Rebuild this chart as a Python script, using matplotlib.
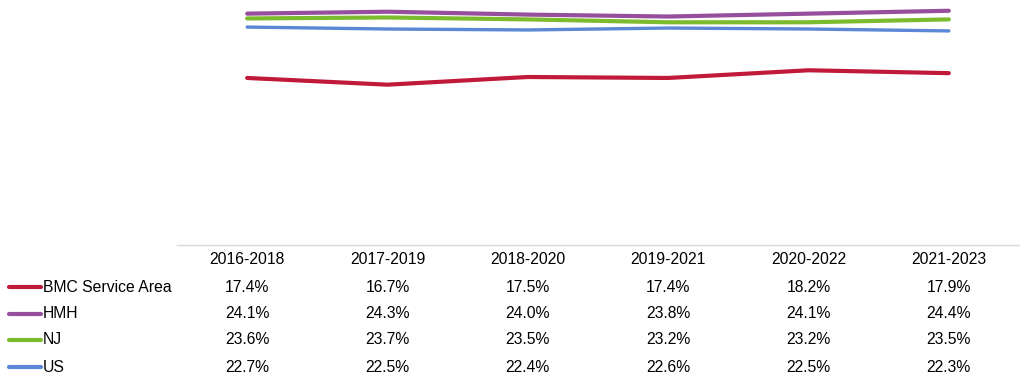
import matplotlib.pyplot as plt
from matplotlib import font_manager
from matplotlib.lines import Line2D
from matplotlib.transforms import blended_transform_factory

installed = {f.name for f in font_manager.fontManager.ttflist}
if "Liberation Sans Narrow" in installed:
    plt.rcParams["font.family"] = ["Liberation Sans Narrow", "DejaVu Sans"]
    fs = 13
else:
    plt.rcParams["font.family"] = ["Liberation Sans", "DejaVu Sans"]
    fs = 11.3

periods = ["2016-2018", "2017-2019", "2018-2020", "2019-2021", "2020-2022", "2021-2023"]
names = ["BMC Service Area", "HMH", "NJ", "US"]
bmc = [17.4, 16.7, 17.5, 17.4, 18.2, 17.9]
hmh = [24.1, 24.3, 24.0, 23.8, 24.1, 24.4]
nj = [23.6, 23.7, 23.5, 23.2, 23.2, 23.5]
us = [22.7, 22.5, 22.4, 22.6, 22.5, 22.3]

series = [bmc, hmh, nj, us]
colors = ["#C0193A", "#954F9C", "#7DBB2E", "#5B87D6"]
widths = [3.0, 3.0, 3.0, 2.4]

W, H = 1021, 381
fig = plt.figure(figsize=(W / 100, H / 100), dpi=100)
ax = fig.add_axes([177 / W, (H - 245) / H, 842 / W, 240 / H])

x = range(len(periods))
# draw order: US under NJ under HMH, BMC on its own
for vals, c, lw in reversed(list(zip(series, colors, widths))):
    ax.plot(x, vals, color=c, lw=lw, solid_capstyle="round")

ax.set_xlim(-0.5, len(periods) - 0.5)
ax.set_ylim(0, 25)
ax.set_xticks([])
ax.set_yticks([])
for side in ["top", "left", "right"]:
    ax.spines[side].set_visible(False)
ax.spines["bottom"].set_color("#D9D9D9")
ax.spines["bottom"].set_linewidth(1.0)

# data table under the chart
tr = blended_transform_factory(ax.transData, fig.transFigure)
ax_y = lambda py: (H - py) / H
for i, p in enumerate(periods):
    ax.text(i, ax_y(260), p, transform=tr, ha="center", va="center", fontsize=fs, clip_on=False)

row_y = [287, 314, 340, 367]
for name, vals, c, py in zip(names, series, colors, row_y):
    for i, v in enumerate(vals):
        ax.text(i, ax_y(py), f"{v:.1f}%", transform=tr, ha="center", va="center",
                fontsize=fs, clip_on=False)
    fig.add_artist(Line2D([9 / W, 41 / W], [ax_y(py), ax_y(py)], color=c, lw=3.0,
                          solid_capstyle="round", transform=fig.transFigure))
    fig.text(43 / W, ax_y(py), name, ha="left", va="center", fontsize=fs)

fig.savefig("out.png", dpi=100)
